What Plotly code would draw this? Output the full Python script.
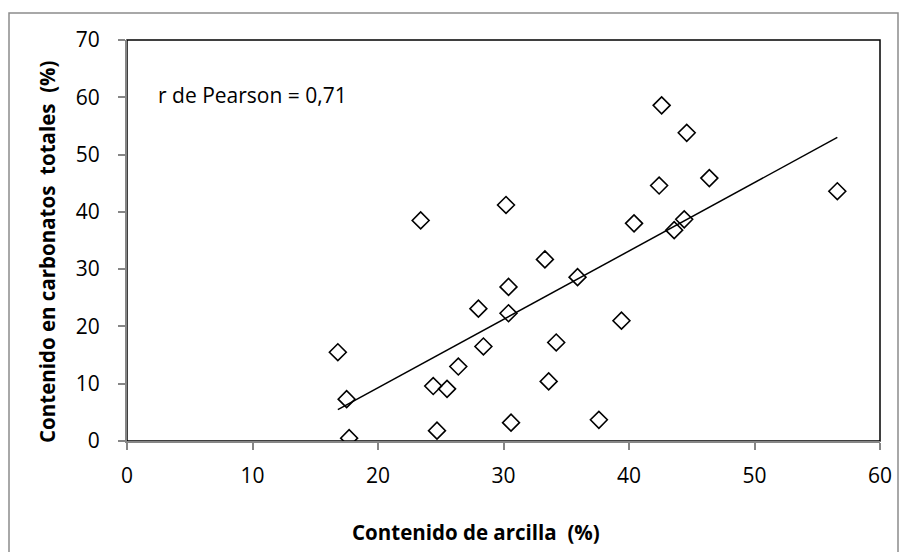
import numpy as np
import plotly.graph_objects as go

# Clay content (%) and total carbonate content (%) per sample
arcilla = [16.8, 17.5, 17.7, 23.4, 24.4, 24.7, 25.5, 26.4, 28.0, 28.4,
           30.2, 30.4, 30.4, 30.6, 33.3, 33.6, 34.2, 35.9, 37.6, 39.4,
           40.4, 42.4, 42.6, 43.6, 44.4, 44.6, 46.4, 56.6]
carbonatos = [15.5, 7.3, 0.5, 38.5, 9.6, 1.8, 9.1, 13.0, 23.1, 16.5,
              41.2, 26.9, 22.3, 3.2, 31.7, 10.4, 17.2, 28.6, 3.7, 21.0,
              38.0, 44.6, 58.6, 36.8, 38.7, 53.8, 45.9, 43.6]

x_ticks = [0, 10, 20, 30, 40, 50, 60]
y_ticks = [0, 10, 20, 30, 40, 50, 60, 70]

x_title = "Contenido de arcilla  (%)"
y_title = "Contenido en carbonatos  totales  (%)"
r_label = "r de Pearson = 0,71"

# Least-squares trend line over the observed clay range
slope, intercept = np.polyfit(arcilla, carbonatos, 1)
x_fit = np.array([min(arcilla), max(arcilla)])
y_fit = slope * x_fit + intercept

W, H = 908, 552
L, R, T, B = 127, 28, 40, 111
pw, ph = W - L - R, H - T - B


def px_to_paper_x(px):
    return (px - L) / pw


def px_to_paper_y(py):
    return (H - B - py) / ph


fig = go.Figure()

fig.add_trace(go.Scatter(
    x=arcilla, y=carbonatos, mode="markers",
    marker=dict(symbol="diamond-open", size=13, color="black",
                line=dict(color="black", width=1.6)),
    showlegend=False, hoverinfo="x+y",
))

fig.add_trace(go.Scatter(
    x=x_fit, y=y_fit, mode="lines",
    line=dict(color="black", width=1.5),
    showlegend=False, hoverinfo="skip",
))

tick_font = dict(family="Open Sans, Liberation Sans, sans-serif", size=21, color="black")
title_font = dict(family="Open Sans, Liberation Sans, sans-serif", size=20.5,
                  color="black", weight="bold")

fig.update_layout(
    width=W, height=H,
    margin=dict(l=L, r=R, t=T, b=B, pad=0),
    paper_bgcolor="white", plot_bgcolor="white",
    xaxis=dict(range=[0, 60], tickvals=x_ticks, showgrid=False, zeroline=False,
               showline=True, linecolor="#868686", linewidth=2,
               ticks="outside", ticklen=7, tickcolor="#868686", tickwidth=2,
               tickfont=tick_font, ticklabelstandoff=8),
    yaxis=dict(range=[0, 70], tickvals=y_ticks, showgrid=False, zeroline=False,
               showline=True, linecolor="#868686", linewidth=2,
               ticks="outside", ticklen=7, tickcolor="#868686", tickwidth=2,
               tickfont=tick_font, ticklabelstandoff=14),
    shapes=[
        # plot-area frame
        dict(type="rect", xref="x domain", yref="y domain", x0=0, x1=1, y0=0, y1=1,
             line=dict(color="black", width=1.5), layer="below"),
        # chart-area frame
        dict(type="rect", xref="paper", yref="paper",
             x0=px_to_paper_x(9), x1=px_to_paper_x(898),
             y0=px_to_paper_y(570), y1=px_to_paper_y(13),
             line=dict(color="#8c8c8c", width=1.5)),
    ],
    annotations=[
        dict(text=r_label, x=px_to_paper_x(156), y=px_to_paper_y(95),
             xref="paper", yref="paper", xanchor="left", yanchor="middle",
             showarrow=False, font=tick_font),
        dict(text=x_title, x=px_to_paper_x(476), y=px_to_paper_y(532),
             xref="paper", yref="paper", xanchor="center", yanchor="middle",
             showarrow=False, font=title_font),
        dict(text=y_title, x=px_to_paper_x(47), y=px_to_paper_y(252),
             xref="paper", yref="paper", xanchor="center", yanchor="middle",
             textangle=-90, showarrow=False, font=title_font),
    ],
)

fig.write_html("out.html")
